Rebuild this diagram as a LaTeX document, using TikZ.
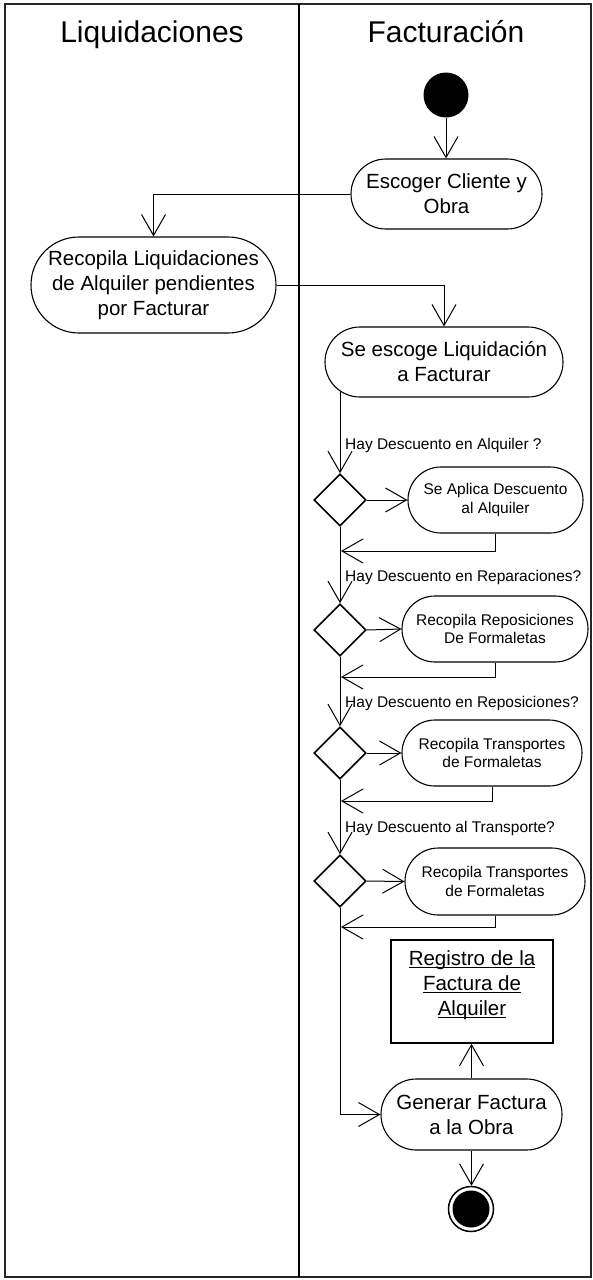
\documentclass[tikz,border=0pt]{standalone}
\usepackage{fontspec}
\setmainfont{Liberation Sans}
\usetikzlibrary{arrows.meta,shapes.geometric,backgrounds}

\newcommand{\regline}[1]{\underline{\smash{#1}}}

\begin{document}
\begin{tikzpicture}[x=1pt,y=-1pt,
  bigtext/.style={font=\fontsize{20.5}{25}\selectfont},
  smalltext/.style={font=\fontsize{15.5}{18.5}\selectfont},
  act/.style n args={3}{draw, line width=1.1pt, fill=white, rounded corners=#3,
    minimum width=#1, minimum height=#2, inner sep=0pt, align=center},
  decision/.style={diamond, draw, line width=1.6pt, fill=white, aspect=1,
    minimum width=52, minimum height=52, inner sep=0pt},
  guard/.style={smalltext, anchor=base west, inner sep=0pt},
  lanehead/.style={font=\fontsize{30}{36}\selectfont, anchor=base, inner sep=0pt},
  arr/.style={-{Straight Barb[length=21pt,width=24pt]}, line width=1pt}
]
\useasboundingbox (0,0) rectangle (593,1280);

% swimlanes
\draw[line width=2pt, black!85] (5,3.5) rectangle (590.5,1276.5);
\draw[line width=2.2pt] (299,3.5) -- (299,1276.5);
\node[lanehead] (laneL) at (152,42) {Liquidaciones};
\node[lanehead] (laneR) at (446,42) {Facturación};

% initial and final states
\node[circle, fill=black, minimum size=45, inner sep=0pt] (start) at (446,95) {};
\node[circle, draw, line width=1.5pt, fill=white, minimum size=45, inner sep=0pt] (fin) at (471,1209) {};
\node[circle, fill=black, minimum size=37, inner sep=0pt] (finin) at (fin) {};

% activities
\node[act={191}{70}{34.9}, bigtext] (esc) at (446.5,194) {Escoger Cliente y\\Obra};
\node[act={245}{96}{47.9}, bigtext] (rec) at (153.5,285) {Recopila Liquidaciones\\de Alquiler pendientes\\por Facturar};
\node[act={238}{70}{34.9}, bigtext] (sesc) at (444,362) {Se escoge Liquidación\\a Facturar};

\node[decision] (d1) at (340,500) {};
\node[decision] (d2) at (340,630) {};
\node[decision] (d3) at (340,753) {};
\node[decision] (d4) at (340,881) {};

\node[act={175}{66}{32.9}, smalltext] (b1) at (495.5,500) {Se Aplica Descuento\\al Alquiler};
\node[act={186}{66}{32.9}, smalltext] (b2) at (495,629) {Recopila Reposiciones\\De Formaletas};
\node[act={180}{66}{32.9}, smalltext] (b3) at (492,753) {Recopila Transportes\\de Formaletas};
\node[act={180}{67}{33.4}, smalltext] (b4) at (495,881.5) {Recopila Transportes\\de Formaletas};

\node[guard] (g1) at (345,449) {Hay Descuento en Alquiler ?};
\node[guard] (g2) at (345,581) {Hay Descuento en Reparaciones?};
\node[guard] (g3) at (345,707) {Hay Descuento en Reposiciones?};
\node[guard] (g4) at (345,832) {Hay Descuento al Transporte?};

\node[draw, line width=1.6pt, fill=white, minimum width=162, minimum height=103,
  inner sep=0pt, align=center, bigtext] (reg) at (472,991.5)
  {\regline{Registro de la}\\\regline{Factura de}\\\regline{Alquiler}};
\node[act={181}{71}{35.4}, bigtext] (gen) at (471.5,1114.5) {Generar Factura\\a la Obra};

% merge points on the main flow line
\coordinate (j1) at (341,551);
\coordinate (j2) at (341,677);
\coordinate (j3) at (341,801);
\coordinate (j4) at (341,927);

% transitions
\begin{scope}[on background layer]
\draw[arr] (start.south) -- (start.south |- esc.north);
\draw[arr] (esc.west) -| (rec.north);
\draw[arr] (rec.east) -| (sesc.north);
\draw[arr] (sesc.center -| d1.north) -- (d1.north);
\draw[arr] (d1.east) -- (b1.west);
\draw[arr] (b1.south) |- (j1);
\draw[arr] (d1.south) -- (d2.north);
\draw[arr] (d2.east) -- (b2.west);
\draw[arr] (b2.south) |- (j2);
\draw[arr] (d2.south) -- (d3.north);
\draw[arr] (d3.east) -- (b3.west);
\draw[arr] (b3.south) |- (j3);
\draw[arr] (d3.south) -- (d4.north);
\draw[arr] (d4.east) -- (b4.west);
\draw[arr] (b4.south) |- (j4);
\draw[arr] (d4.south) |- (gen.west);
\draw[arr] (gen.north) -- (gen.north |- reg.south);
\draw[arr] (gen.south) -- (gen.south |- fin.north);
\end{scope}
\end{tikzpicture}
\end{document}
